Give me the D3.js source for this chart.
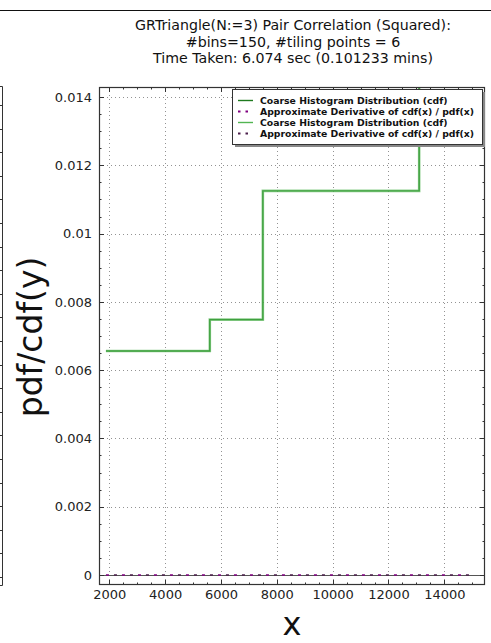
<!DOCTYPE html>
<html>
<head>
<meta charset="utf-8">
<script src="https://cdn.jsdelivr.net/npm/d3@7"></script>
<style>
  html, body { margin: 0; padding: 0; background: #fff; }
  svg { display: block; font-family: "DejaVu Sans", sans-serif; }
</style>
</head>
<body>
<svg id="chart" width="491" height="643"></svg>
<script>
// ---- data ----
const titleLines = ["GRTriangle(N:=3) Pair Correlation (Squared):", "#bins=150, #tiling points = 6", "Time Taken: 6.074 sec (0.101233 mins)"];
const stepX = [1880, 5600, 7500, 13100, 15040];        // step edges
const cdfCoarse = [0.00656, 0.00748, 0.01125, 0.0168]; // level for each step
const derivX = [1880, 15040];
const derivY = [0, 0];
const xTicks = [2000, 4000, 6000, 8000, 10000, 12000, 14000];
const yTicks = [0, 0.002, 0.004, 0.006, 0.008, 0.01, 0.012, 0.014];
const yTickLabels = ["0", "0.002", "0.004", "0.006", "0.008", "0.01", "0.012", "0.014"];
const legendLabels = ["Coarse Histogram Distribution (cdf)", "Approximate Derivative of cdf(x) / pdf(x)", "Coarse Histogram Distribution (cdf)", "Approximate Derivative of cdf(x) / pdf(x)"];
const leftPanelTicks = d3.range(0, 21); // ticks of the neighbouring (cropped) panel

// ---- layout ----
const svg = d3.select("#chart");
const L = 99, R = 485, T = 87, B = 585;
const x = d3.scaleLinear().domain([1631, 15458]).range([L, R]);
const y = d3.scaleLinear().domain([-0.000293, 0.014293]).range([B, T]);
const axisColor = "#333";

// top line of a panel above
svg.append("line").attr("x1", 0).attr("x2", 491).attr("y1", 10.5).attr("y2", 10.5)
  .attr("stroke", "#111").attr("stroke-width", 1.2);

// cropped neighbouring panel on the left
const lp = d3.scaleLinear().domain([0, 20]).range([577, 105]);
svg.append("path").attr("d", `M0,${86.5}H2.5V${585.5}H0`).attr("fill", "none").attr("stroke", axisColor).attr("stroke-width", 1);
svg.append("g").selectAll("line").data(leftPanelTicks).join("line")
  .attr("x1", 0).attr("x2", 2.5).attr("y1", d => Math.round(lp(d)) + 0.5).attr("y2", d => Math.round(lp(d)) + 0.5)
  .attr("stroke", axisColor);

// title
svg.append("g").selectAll("text").data(titleLines).join("text")
  .attr("x", 293).attr("y", (d, i) => 30 + i * 16.6)
  .attr("text-anchor", "middle").attr("font-size", 14.2).attr("fill", "#111").text(d => d);

// clip
svg.append("clipPath").attr("id", "clip").append("rect").attr("x", L).attr("y", T).attr("width", R - L).attr("height", B - T);

// grid
const grid = svg.append("g").attr("stroke", "#777").attr("stroke-width", 0.8).attr("stroke-dasharray", "1,3");
grid.selectAll(".gx").data(xTicks).join("line")
  .attr("x1", d => Math.round(x(d)) + 0.5).attr("x2", d => Math.round(x(d)) + 0.5).attr("y1", T).attr("y2", B);
grid.selectAll(".gy").data(yTicks).join("line")
  .attr("y1", d => Math.round(y(d)) + 0.5).attr("y2", d => Math.round(y(d)) + 0.5).attr("x1", L).attr("x2", R);

const plot = svg.append("g").attr("clip-path", "url(#clip)");

// zero line
plot.append("line").attr("x1", L).attr("x2", R).attr("y1", Math.round(y(0)) + 0.5).attr("y2", Math.round(y(0)) + 0.5)
  .attr("stroke", "#555").attr("stroke-width", 1);

// step data
const stepPts = [];
cdfCoarse.forEach((v, i) => { stepPts.push([stepX[i], v]); stepPts.push([stepX[i + 1], v]); });
const line = d3.line().x(d => x(d[0])).y(d => y(d[1]));

plot.append("path").datum(stepPts).attr("d", line).attr("fill", "none")
  .attr("stroke", "#1f7a1f").attr("stroke-width", 1.4);
plot.append("path").datum(stepPts).attr("d", line).attr("fill", "none")
  .attr("stroke", "#52b552").attr("stroke-width", 2.6).attr("stroke-opacity", 0.65);

const derivPts = derivX.map((d, i) => [d, derivY[i]]);
plot.append("path").datum(derivPts).attr("d", line).attr("fill", "none")
  .attr("stroke", "#800080").attr("stroke-width", 1.6).attr("stroke-dasharray", "3,13");
plot.append("path").datum(derivPts).attr("d", line).attr("fill", "none")
  .attr("stroke", "#4b1f4b").attr("stroke-width", 1.6).attr("stroke-dasharray", "3,13").attr("stroke-dashoffset", 8);

// axes (inward ticks, mirrored)
function ticksInward(g, scale, orient, major, minor) {
  const len = { major: 5, minor: 2.5 };
  const all = [...major.map(v => [v, len.major]), ...minor.map(v => [v, len.minor])];
  all.forEach(([v, l]) => {
    const p = Math.round(scale(v)) + 0.5;
    if (orient === "x") {
      g.append("line").attr("x1", p).attr("x2", p).attr("y1", B).attr("y2", B - l);
      g.append("line").attr("x1", p).attr("x2", p).attr("y1", T).attr("y2", T + l);
    } else {
      g.append("line").attr("y1", p).attr("y2", p).attr("x1", L).attr("x2", L + l);
      g.append("line").attr("y1", p).attr("y2", p).attr("x1", R).attr("x2", R - l);
    }
  });
}
const tg = svg.append("g").attr("stroke", axisColor).attr("stroke-width", 1);
const xMinor = d3.range(2000, 15458, 500).filter(v => v % 2000 !== 0);
const yMinor = d3.range(0, 0.0143, 0.0005).filter(v => Math.abs(v / 0.002 - Math.round(v / 0.002)) > 1e-6);
ticksInward(tg, x, "x", xTicks, xMinor);
ticksInward(tg, y, "y", yTicks, yMinor);

// d3 axes for labels (tick lines hidden)
const xAxis = d3.axisBottom(x).tickValues(xTicks).tickFormat(d3.format("d")).tickSize(0).tickPadding(5);
svg.append("g").attr("transform", `translate(0,${B})`).call(xAxis)
  .call(g => g.select(".domain").remove())
  .call(g => g.selectAll("text").attr("font-size", 13).attr("fill", "#222").attr("font-family", "DejaVu Sans"));
const yAxis = d3.axisLeft(y).tickValues(yTicks).tickFormat((d, i) => yTickLabels[i]).tickSize(0).tickPadding(7);
svg.append("g").attr("transform", `translate(${L},0)`).call(yAxis)
  .call(g => g.select(".domain").remove())
  .call(g => g.selectAll("text").attr("font-size", 13).attr("fill", "#222").attr("font-family", "DejaVu Sans"));

// frame
svg.append("rect").attr("x", L + 0.5).attr("y", T + 0.5).attr("width", R - L - 1).attr("height", B - T - 1)
  .attr("fill", "none").attr("stroke", axisColor).attr("stroke-width", 1.2);

// axis labels
svg.append("text").attr("x", 292).attr("y", 635).attr("text-anchor", "middle")
  .attr("font-size", 32).attr("fill", "#111").text("x");
svg.append("text").attr("transform", "translate(42,337) rotate(-90)").attr("text-anchor", "middle")
  .attr("font-size", 33).attr("fill", "#111").text("pdf/cdf(y)");

// legend
const lg = svg.append("g");
const lx = 232, ly = 89, lw = 250, lh = 55;
lg.append("rect").attr("x", lx + 3).attr("y", ly + 3).attr("width", lw).attr("height", lh).attr("fill", "#888");
lg.append("rect").attr("x", lx + 0.5).attr("y", ly + 0.5).attr("width", lw).attr("height", lh)
  .attr("fill", "#fff").attr("stroke", "#333").attr("stroke-width", 1);
const legColors = ["#1f7a1f", "#800080", "#52b552", "#4b1f4b"];
const legDash = [null, "2.5,5", null, "2.5,5"];
legendLabels.forEach((t, i) => {
  const yy = 100.5 + i * 11;
  lg.append("line").attr("x1", 238).attr("x2", 253).attr("y1", yy).attr("y2", yy)
    .attr("stroke", legColors[i]).attr("stroke-width", legDash[i] ? 1.8 : 1.4)
    .attr("stroke-dasharray", legDash[i]);
  lg.append("text").attr("x", 260).attr("y", yy + 3.3).attr("font-size", 9.3).attr("font-weight", "bold")
    .attr("fill", "#111").text(t);
});
</script>
</body>
</html>
